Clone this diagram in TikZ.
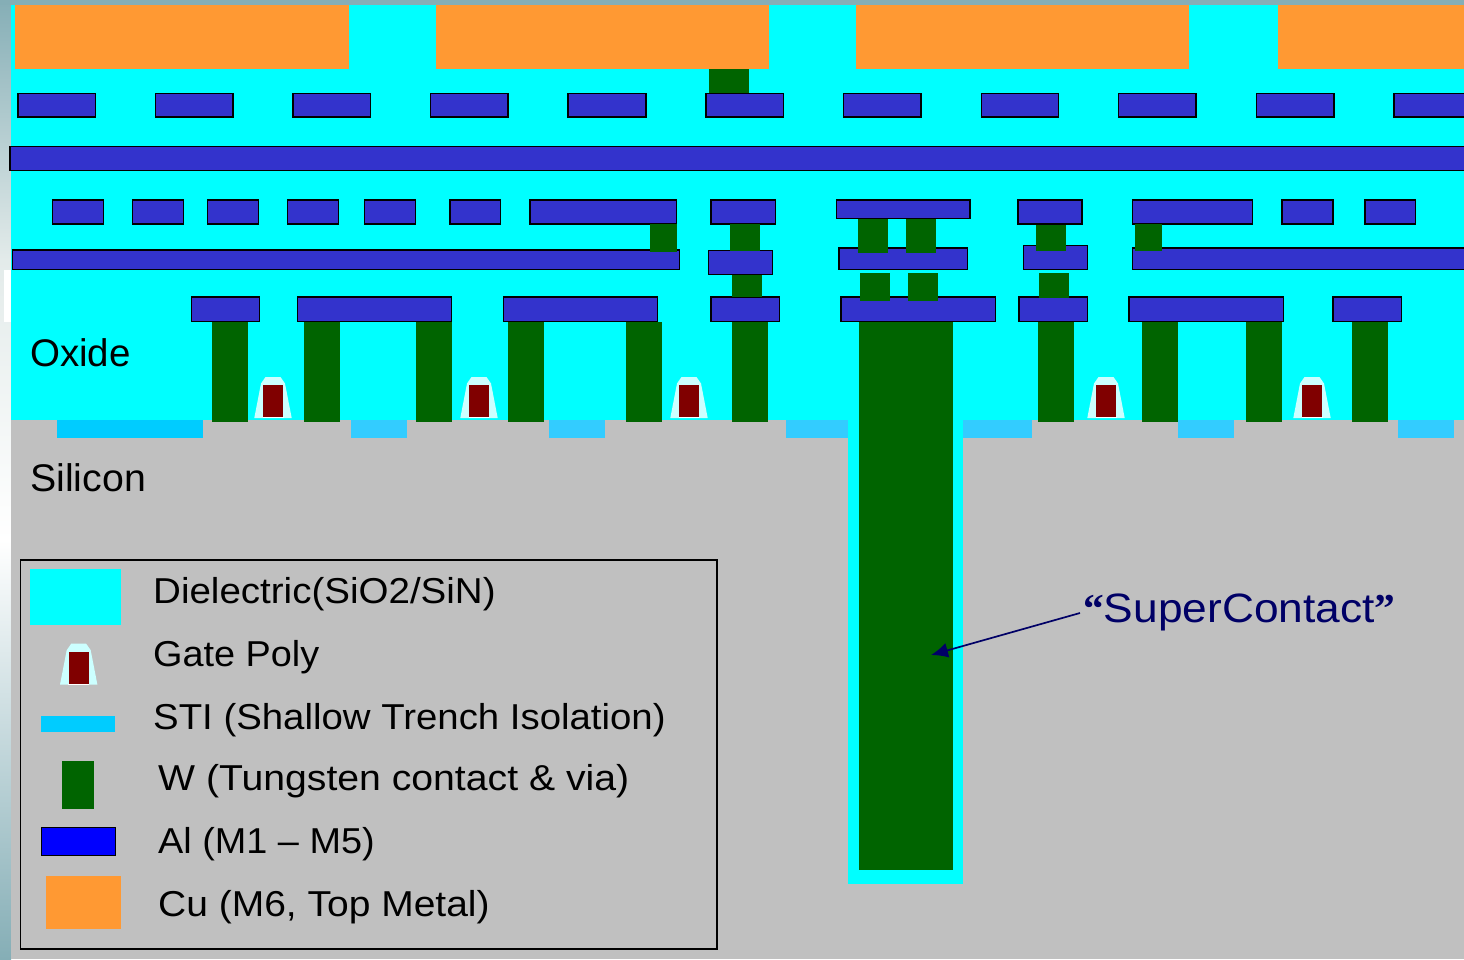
\documentclass[tikz,border=0pt]{standalone}
\usepackage{fontspec}
\usetikzlibrary{arrows.meta}
\setmainfont[FakeStretch=1.07]{Liberation Sans}
\newfontfamily\plainfont{Liberation Sans}
\newfontfamily\quotefont{Liberation Serif}
\definecolor{oxide}{HTML}{00FFFF}
\definecolor{silicon}{HTML}{C0C0C0}
\definecolor{copper}{HTML}{FF9933}
\definecolor{tungsten}{HTML}{006400}
\definecolor{metal}{HTML}{3333CC}
\definecolor{stifill}{HTML}{33CCFF}
\definecolor{stibright}{HTML}{00CCFF}
\definecolor{spacer}{HTML}{CCFFFF}
\definecolor{polyred}{HTML}{800000}
\definecolor{navytext}{HTML}{000066}
\definecolor{stripend}{HTML}{85AEB6}
\definecolor{stripmid}{HTML}{E3EBEA}
\tikzset{
  metalbox/.style={draw=black,line width=1.9pt,fill=metal},
  labeltext/.style={anchor=base west,inner sep=0pt,font=\fontsize{36}{36}\selectfont,text=black},
  biglabel/.style={labeltext,font=\plainfont\fontsize{38.5}{38.5}\selectfont},
}
\newcommand{\cu}[2]{\fill[copper] (#1,5) rectangle (#2,69);}
\newcommand{\mt}[4]{\draw[metalbox] (#1,#2) rectangle (#3,#4);}
\newcommand{\wv}[4]{\fill[tungsten] (#1,#2) rectangle (#3,#4);}
\newcommand{\sti}[2]{\fill[stifill] (#1,420) rectangle (#2,438);}
\newcommand{\gatepoly}[2]{%
  \begin{scope}[shift={(#1,#2)}]
    \fill[spacer] (-18.7,0) -- (-12,-34.5) -- (-7.5,-41) -- (7.5,-41) -- (12,-34.5) -- (18.7,0) -- cycle;
    \fill[white] (-10.5,-1) rectangle (10.5,0);
    \fill[polyred] (-10,-33) rectangle (10,-1);
  \end{scope}}
\begin{document}
\begin{tikzpicture}[x=1pt,y=-1pt]
\useasboundingbox (0,0) rectangle (1464,959);
% slide background
\shade[top color=stripend,bottom color=stripmid] (0,0) rectangle (11,260);
\shade[top color=stripmid,bottom color=white] (0,260) rectangle (11,540);
\shade[top color=white,bottom color=stripend] (0,540) rectangle (11,959);
\fill[stripend] (0,0) rectangle (1464,5);
\fill[white] (3.5,270) rectangle (11,322);
% layers
\fill[oxide] (11,5) rectangle (1464,420);
\fill[silicon] (11,420) rectangle (1464,959);
% top copper
\cu{15}{349}\cu{436}{769}\cu{856}{1189}\cu{1278}{1464}
% STI
\fill[stibright] (57,420) rectangle (203,438);
\sti{351}{407}\sti{549}{605}\sti{786}{848}\sti{963}{1032}\sti{1178}{1234}\sti{1398}{1454}
% super contact
\fill[oxide] (848,420) rectangle (963,883.5);
\wv{859}{322}{953}{870}
% contacts
\wv{212}{322}{248}{422}\wv{304}{322}{340}{422}\wv{416}{322}{452}{422}
\wv{508}{322}{544}{422}\wv{626}{322}{662}{422}\wv{732}{322}{768}{422}
\wv{1038}{322}{1074}{422}\wv{1142}{322}{1178}{422}\wv{1246}{322}{1282}{422}\wv{1352}{322}{1388}{422}
% gates
\gatepoly{273}{418}\gatepoly{479}{418}\gatepoly{689}{418}\gatepoly{1106}{418}\gatepoly{1312}{418}
% M5 row
\mt{18}{93.5}{95.5}{117}\mt{155.5}{93.5}{233}{117}\mt{293}{93.5}{370.5}{117}
\mt{430.5}{93.5}{508}{117}\mt{568}{93.5}{646}{117}\mt{706}{93.5}{783.5}{117}
\mt{843.5}{93.5}{921}{117}\mt{981.5}{93.5}{1058.5}{117}\mt{1118.5}{93.5}{1196}{117}
\mt{1256.5}{93.5}{1334}{117}\mt{1394}{93.5}{1470}{117}
\wv{709}{69}{749}{92.5}
% M4
\mt{10}{146.5}{1470}{170.5}
% M3 row
\mt{52.5}{200}{103.5}{224}\mt{132.5}{200}{183.5}{224}\mt{207.5}{200}{258.5}{224}
\mt{287.5}{200}{338.5}{224}\mt{364.5}{200}{415.5}{224}\mt{450}{200}{500.5}{224}
\mt{530}{200}{676.5}{224}\mt{711}{200}{775.5}{224}\mt{836.5}{200}{970}{218.5}
\mt{1018}{200}{1082}{224}\mt{1132.5}{200}{1252.5}{224}\mt{1282}{200}{1333}{224}\mt{1365}{200}{1415.5}{224}
% M2 row
\mt{12.5}{250}{679.5}{269.5}\mt{708.5}{250.5}{772.5}{274.5}\mt{839}{248}{967.5}{269.5}
\mt{1023.5}{245.5}{1087.5}{269.5}\mt{1132.5}{248}{1470}{269.5}
% M1 row
\mt{191.5}{297}{259.5}{321.5}\mt{297.5}{297}{451.5}{321.5}\mt{503.5}{297}{657.5}{321.5}
\mt{711}{297}{779.5}{321.5}\mt{841}{297}{995.5}{321.5}\mt{1019}{297}{1087.5}{321.5}
\mt{1129}{297}{1283.5}{321.5}\mt{1333}{297}{1401.5}{321.5}
% vias
\wv{650}{224}{677}{251.7}\wv{730}{224}{760}{251}\wv{858}{219}{888}{253}\wv{906}{219}{936}{253}
\wv{1036}{225}{1066}{251}\wv{1135}{224}{1162}{251}
\wv{732}{275}{762}{297}\wv{860}{273}{890}{301}\wv{908}{273}{938}{301}\wv{1039}{273}{1069}{298}
% labels
\node[biglabel] (oxidelabel) at (30,366) {Oxide};
\node[biglabel] (siliconlabel) at (30,491.7) {\scalebox{1.02}[1]{Silicon}};
% legend
\draw[black,line width=1.6pt] (20.5,560) rectangle (717,949);
\fill[oxide] (30,569) rectangle (121,625);
\gatepoly{78.7}{684.7}
\fill[stibright] (41,716) rectangle (115,732);
\wv{62}{761}{94}{809}
\draw[black,line width=1.8pt,fill=blue] (41.5,827.5) rectangle (115.5,855.5);
\fill[copper] (46,876) rectangle (121,929);
\node[labeltext] (l1) at (153,603) {Dielectric(SiO2/SiN)};
\node[labeltext] (l2) at (153,666) {\scalebox{.982}[1]{Gate Poly}};
\node[labeltext] (l3) at (153,729) {\scalebox{.996}[1]{STI (Shallow Trench Isolation)}};
\node[labeltext] (l4) at (158,790) {\scalebox{1.017}[1]{W (Tungsten contact \& via)}};
\node[labeltext] (l5) at (158,853) {\scalebox{.982}[1]{Al (M1 – M5)}};
\node[labeltext] (l6) at (158,916) {\scalebox{1.012}[1]{Cu (M6, Top Metal)}};
% callout
\node[labeltext,font=\fontsize{41}{41}\selectfont,text=navytext] (super) at (1083,622.5) {\scalebox{1.01}[1]{{\quotefont\bfseries “}SuperContact{\quotefont\bfseries ”}}};
\coordinate (supertarget) at (931,655);
\coordinate (superstart) at (1080,613);
\draw[navytext,line width=1.7pt,-{Latex[length=17pt,width=15pt]}] (superstart) -- (supertarget);
\end{tikzpicture}
\end{document}
